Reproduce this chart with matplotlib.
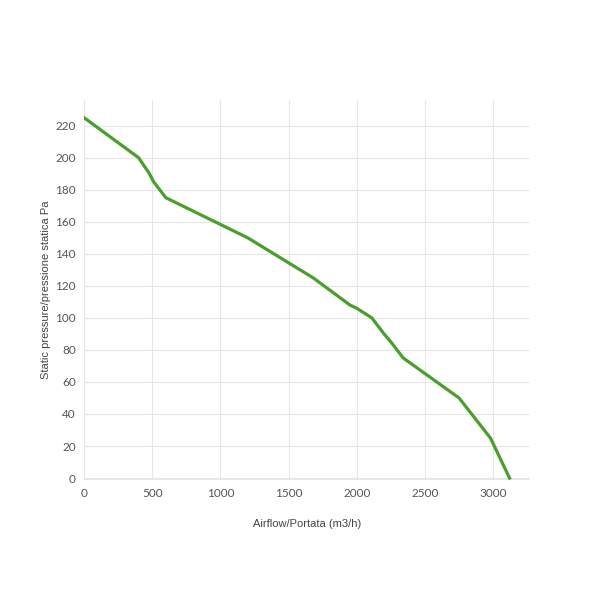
import matplotlib
matplotlib.use("Agg")
import matplotlib.pyplot as plt

airflow = [0, 400, 480, 510, 600, 1200, 1680, 1950, 2000, 2110, 2200, 2250, 2340, 2750, 2980, 3120]
pressure = [225, 200, 190, 185, 175, 150, 125, 108, 106, 100, 90, 85, 75, 50, 25, 0]
xticks = [0, 500, 1000, 1500, 2000, 2500, 3000]
yticks = [0, 20, 40, 60, 80, 100, 120, 140, 160, 180, 200, 220]

plt.rcParams['font.family'] = ['Lato', 'DejaVu Sans']
fig = plt.figure(figsize=(5.89, 5.89), dpi=100)
ax = fig.add_axes([84/589, 1 - 480/589, (530-84)/589, (480-100)/589])
ax.plot(airflow, pressure, color='#4a9e2c', linewidth=2.3, solid_joinstyle='round', zorder=3)
ax.set_xlim(0, 3270)
ax.set_ylim(-1.2, 236)
ax.set_xticks(xticks)
ax.set_yticks(yticks)
ax.grid(True, color='#e6e6e6', linewidth=0.8)
for s in ax.spines.values():
    s.set_visible(False)
ax.axhline(-1.2, color='#e6e6e6', linewidth=1.2)
ax.tick_params(length=0, colors='#555555', labelsize=8.5, pad=6)
ax.set_xlabel('Airflow/Portata (m3/h)', fontsize=8, color='#444444', labelpad=14,
              family=['Liberation Sans', 'DejaVu Sans'])
ax.set_ylabel('Static pressure/pressione statica Pa', fontsize=8, color='#444444', labelpad=3,
              family=['Liberation Sans', 'DejaVu Sans'])
fig.savefig('out.png', dpi=100, facecolor='white')
